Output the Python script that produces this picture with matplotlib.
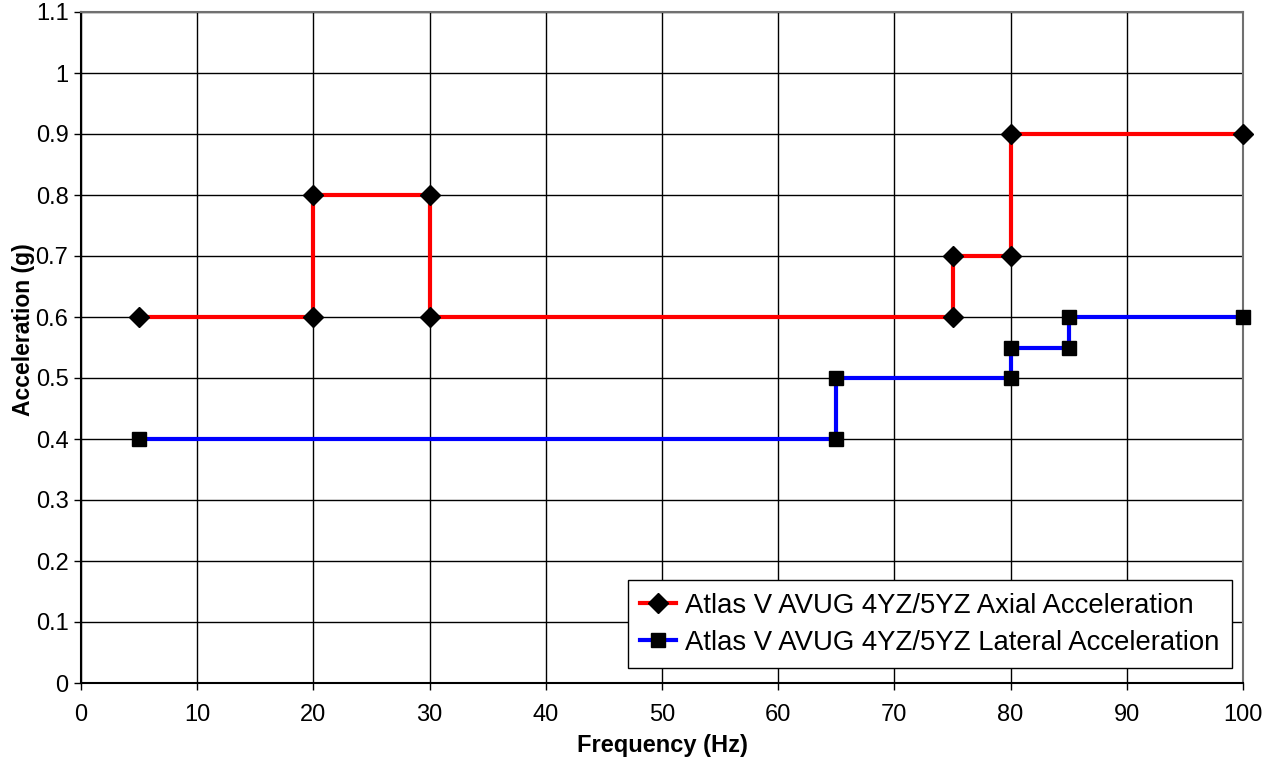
import matplotlib
matplotlib.use("Agg")
import matplotlib.pyplot as plt

plt.rcParams['font.family'] = ['Liberation Sans', 'DejaVu Sans']

axial_freq = [5, 20, 20, 30, 30, 75, 75, 80, 80, 100]
axial_acc = [0.6, 0.6, 0.8, 0.8, 0.6, 0.6, 0.7, 0.7, 0.9, 0.9]
lateral_freq = [5, 65, 65, 80, 80, 85, 85, 100]
lateral_acc = [0.4, 0.4, 0.5, 0.5, 0.55, 0.55, 0.6, 0.6]
axial_label = "Atlas V AVUG 4YZ/5YZ Axial Acceleration"
lateral_label = "Atlas V AVUG 4YZ/5YZ Lateral Acceleration"
x_ticks = list(range(0, 101, 10))
y_ticks = [0, 0.1, 0.2, 0.3, 0.4, 0.5, 0.6, 0.7, 0.8, 0.9, 1.0, 1.1]
y_tick_labels = ["0", "0.1", "0.2", "0.3", "0.4", "0.5", "0.6", "0.7", "0.8", "0.9", "1", "1.1"]

fig = plt.figure(figsize=(12.81, 7.61), dpi=100)
ax = fig.add_axes([81/1281, 1-683/761, (1243-81)/1281, (683-12)/761])

ax.plot(axial_freq, axial_acc, color='#ff0000', lw=3, marker='D', ms=10,
        mfc='black', mec='black', label=axial_label, zorder=3, clip_on=False)
ax.plot(lateral_freq, lateral_acc, color='#0000ff', lw=3, marker='s', ms=10,
        mfc='black', mec='black', label=lateral_label, zorder=3, clip_on=False)

ax.set_xlim(0, 100)
ax.set_ylim(0, 1.1)
ax.set_xticks(x_ticks)
ax.set_yticks(y_ticks)
ax.set_yticklabels(y_tick_labels)
ax.grid(True, color='black', lw=1)
ax.set_axisbelow(True)
ax.tick_params(direction='out', length=5, width=1, labelsize=17, colors='black', pad=4)
ax.tick_params(axis='x', pad=10)
for s in ['top', 'right']:
    ax.spines[s].set_color('#707070')
    ax.spines[s].set_linewidth(1.5)
for s in ['left', 'bottom']:
    ax.spines[s].set_color('black')
    ax.spines[s].set_linewidth(1.5)

ax.set_xlabel("Frequency (Hz)", fontsize=17, fontweight='bold', labelpad=6)
ax.set_ylabel("Acceleration (g)", fontsize=16.5, fontweight='bold')
ax.yaxis.set_label_coords(-0.0395, 0.526)

leg = ax.legend(loc='lower right', bbox_to_anchor=((1232-81)/1162, (683-668)/671),
                borderaxespad=0, fontsize=19.8, frameon=True, fancybox=False,
                edgecolor='black', framealpha=1, borderpad=0.45, handlelength=1.3,
                labelspacing=0.4, handletextpad=0.35)
leg.get_frame().set_linewidth(1)

fig.savefig("out.png", dpi=100)
